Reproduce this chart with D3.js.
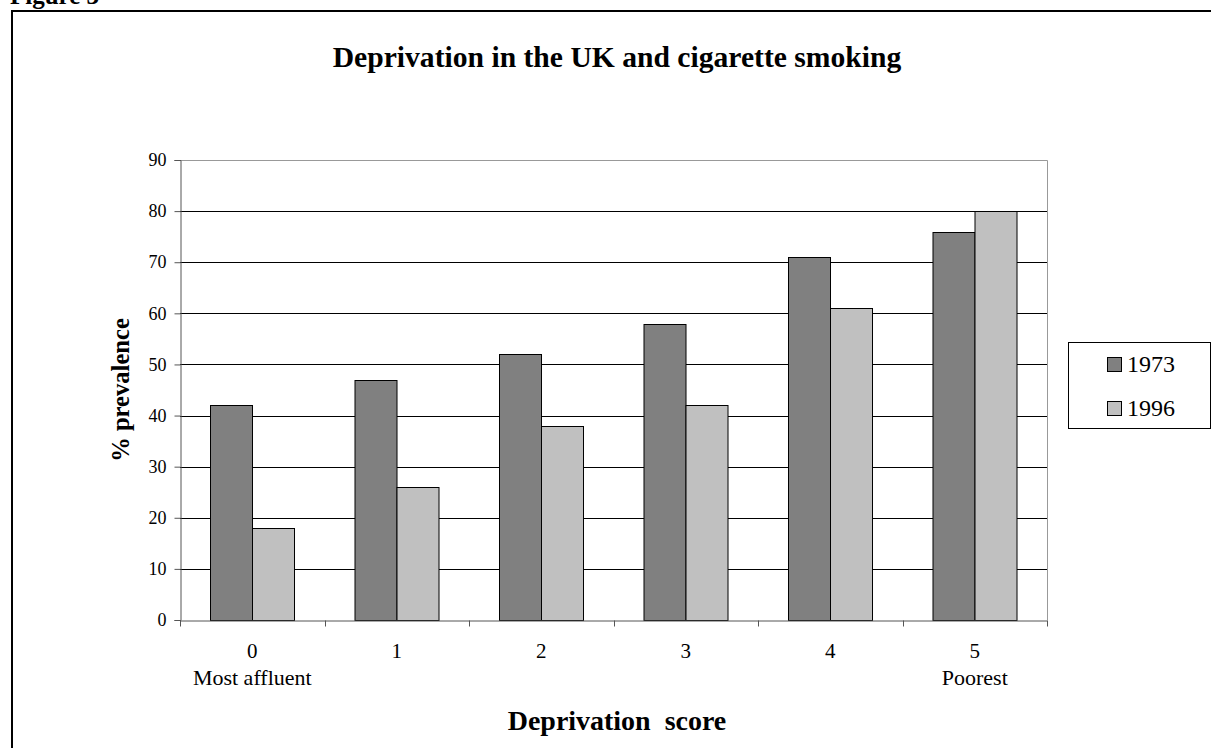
<!DOCTYPE html>
<html><head><meta charset="utf-8">
<script src="https://cdn.jsdelivr.net/npm/d3@7"></script>
<style>
html,body{margin:0;padding:0;background:#fff;}
svg{display:block;}
text{font-family:"Liberation Serif","Times New Roman",serif;fill:#000;}
</style></head>
<body>
<svg id="chart" width="1211" height="748"></svg>
<script>
const categories = ["0","1","2","3","4","5"];
const categorySubLabels = ["Most affluent","","","","","Poorest"];
const seriesNames = ["1973","1996"];
const values1973 = [42,47,52,58,71,76];
const values1996 = [18,26,38,42,61,80];
const yTicks = [0,10,20,30,40,50,60,70,80,90];
const colors = ["#808080","#c0c0c0"];

const svg = d3.select("#chart");
const plot = {left:180, right:1047, top:160, bottom:620};

// Figure label (cut off at top, as in the reference)
svg.append("text").attr("x",10).attr("y",4)
  .attr("font-size",25).attr("font-weight","bold").text("Figure 3");

// outer frame
svg.append("rect").attr("x",12).attr("y",11).attr("width",1260).attr("height",800)
  .attr("fill","none").attr("stroke","#000").attr("stroke-width",2);

const x0 = d3.scaleBand().domain(categories).range([plot.left, plot.right]).padding(0);
const x1 = d3.scaleBand().domain(seriesNames).range([0, x0.bandwidth()]).paddingInner(0).paddingOuter(0.72);
const y = d3.scaleLinear().domain([0,90]).range([plot.bottom, plot.top]);

// gridlines
svg.append("g").selectAll("line").data(yTicks.filter(d=>d>0 && d<90)).join("line")
  .attr("x1",plot.left).attr("x2",plot.right)
  .attr("y1",d=>Math.round(y(d))+0.5).attr("y2",d=>Math.round(y(d))+0.5)
  .attr("stroke","#000").attr("stroke-width",1);

// plot area border (top/right)
svg.append("path")
  .attr("d",`M${plot.left},${plot.top+0.5}H${plot.right+0.5}V${plot.bottom}`)
  .attr("fill","none").attr("stroke","#999").attr("stroke-width",1);

// bars
const data = categories.map((c,i)=>({cat:c, vals:[{s:"1973",v:values1973[i]},{s:"1996",v:values1996[i]}]}));
const g = svg.append("g").selectAll("g").data(data).join("g")
  .attr("transform",d=>`translate(${x0(d.cat)},0)`);
g.selectAll("rect").data(d=>d.vals).join("rect")
  .attr("x",d=>Math.round(x1(d.s))+0.5)
  .attr("y",d=>Math.round(y(d.v))+0.5)
  .attr("width",x1.bandwidth())
  .attr("height",d=>y(0)-Math.round(y(d.v)))
  .attr("fill",(d,i)=>colors[i]).attr("stroke","#000").attr("stroke-width",1);

// y axis
const yAxis = svg.append("g").attr("transform",`translate(${plot.left+0.5},0)`)
  .call(d3.axisLeft(y).tickValues(yTicks).tickSize(6).tickPadding(8));
yAxis.select(".domain").attr("stroke","#555");
yAxis.selectAll(".tick line").attr("stroke","#555");
yAxis.selectAll(".tick text").attr("font-size",18).attr("font-family","Liberation Serif").attr("fill","#000");

// x axis
const xAxis = svg.append("g").attr("transform",`translate(0,${plot.bottom+0.5})`)
  .call(d3.axisBottom(x0).tickSize(0).tickFormat(""));
xAxis.select(".domain").attr("stroke","#555");
xAxis.selectAll(".tick").remove();
const bounds = categories.map(c=>x0(c)).concat([x0(categories[categories.length-1])+x0.bandwidth()]);
xAxis.selectAll("line.sep").data(bounds).join("line").attr("class","sep")
  .attr("x1",d=>Math.round(d)+0.5).attr("x2",d=>Math.round(d)+0.5)
  .attr("y1",0).attr("y2",6).attr("stroke","#555");

// category labels
svg.append("g").selectAll("text").data(categories).join("text")
  .attr("x",d=>x0(d)+x0.bandwidth()/2).attr("y",658)
  .attr("text-anchor","middle").attr("font-size",21).text(d=>d);
svg.append("g").selectAll("text").data(categorySubLabels).join("text")
  .attr("x",(d,i)=>x0(categories[i])+x0.bandwidth()/2).attr("y",685)
  .attr("text-anchor","middle").attr("font-size",22).text(d=>d);

// title
function fit(sel, target){
  const w = sel.node().getBBox().width;
  const fs = +sel.attr("font-size");
  sel.attr("font-size", fs*target/w);
}
const title = svg.append("text").attr("x",617).attr("y",67).attr("text-anchor","middle")
  .attr("font-size",24).attr("font-weight","bold").text("Deprivation in the UK and cigarette smoking");
fit(title, 569);

const xTitle = svg.append("text").attr("x",617).attr("y",730).attr("text-anchor","middle")
  .attr("font-size",24).attr("font-weight","bold").attr("xml:space","preserve").style("white-space","pre")
  .text("Deprivation  score");
fit(xTitle, 219);

const yTitle = svg.append("text").attr("transform","translate(129,390) rotate(-90)")
  .attr("text-anchor","middle").attr("font-size",22).attr("font-weight","bold").text("% prevalence");
fit(yTitle, 144);

// legend
const lg = svg.append("g");
lg.append("rect").attr("x",1068.5).attr("y",342.5).attr("width",142).attr("height",86)
  .attr("fill","#fff").attr("stroke","#000").attr("stroke-width",1);
const li = lg.selectAll("g.item").data(seriesNames).join("g").attr("class","item")
  .attr("transform",(d,i)=>`translate(0,${i*44})`);
li.append("rect").attr("x",1107.5).attr("y",357.5).attr("width",14).attr("height",14)
  .attr("fill",(d,i)=>colors[i]).attr("stroke","#000").attr("stroke-width",1);
li.append("text").attr("x",1127).attr("y",372).attr("font-size",24).text(d=>d);
</script>
</body></html>
